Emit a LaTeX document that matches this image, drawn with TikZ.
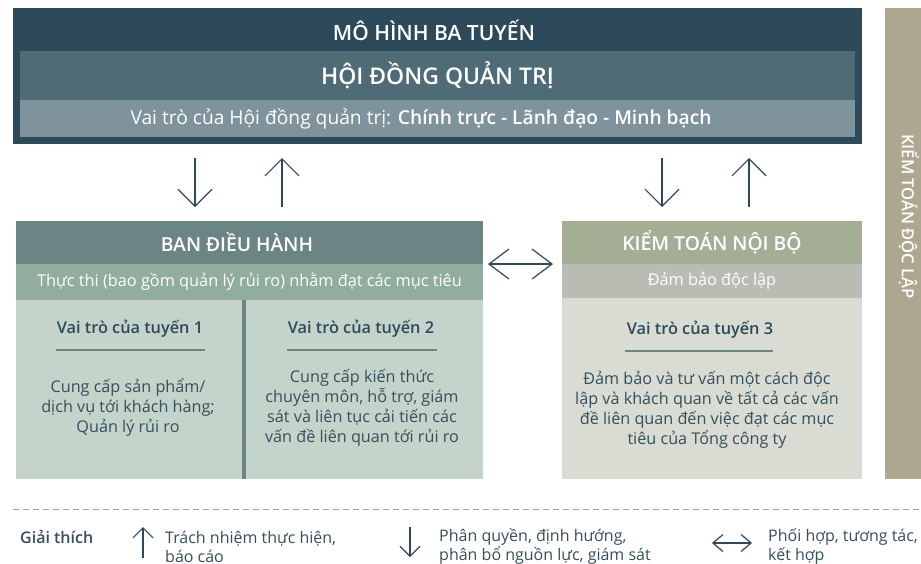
\documentclass[tikz,border=0pt]{standalone}
\usepackage{fontspec}
\setmainfont{Open Sans}[BoldFont={Open Sans Semibold}]
\usetikzlibrary{arrows.meta,positioning}

\definecolor{navy}{HTML}{2C4A59}
\definecolor{boardmid}{HTML}{4E6B76}
\definecolor{boardlight}{HTML}{7F939C}
\definecolor{mgmthead}{HTML}{6B8584}
\definecolor{mgmtsub}{HTML}{91AD9F}
\definecolor{mgmtbody}{HTML}{C5D4CB}
\definecolor{audithead}{HTML}{A4AE95}
\definecolor{auditsub}{HTML}{B9BCB2}
\definecolor{auditbody}{HTML}{D8DCD2}
\definecolor{sidebar}{HTML}{AEA78F}
\definecolor{dashgrey}{HTML}{93A5AD}
\definecolor{inktext}{HTML}{34505C}

\tikzset{
  band/.style={anchor=north west, inner sep=0pt, outer sep=0pt},
  capstxt/.style={text=white, font=\fontsize{19.3}{22}\selectfont\bfseries},
  notetxt/.style={text=white, font=\fontsize{16.3}{19}\selectfont},
  roletitle/.style={text=navy, font=\fontsize{16.3}{19}\selectfont\bfseries},
  roletxt/.style={text=inktext, align=center, font=\fontsize{16.2}{20}\selectfont},
  legendtxt/.style={text=inktext, align=left, anchor=west, inner sep=0pt, font=\fontsize{16}{19}\selectfont},
  rule/.style={draw=mgmthead, line width=2pt},
  bigarr/.style={draw=navy, line width=1.2pt, -{Straight Barb[length=17pt, width=34pt]}},
  sidearr/.style={draw=navy, line width=1.2pt, {Straight Barb[length=20pt, width=30pt]}-{Straight Barb[length=20pt, width=30pt]}},
  smallarr/.style={draw=navy, line width=1.2pt, -{Straight Barb[length=10pt, width=20pt]}},
  smallside/.style={draw=navy, line width=1.2pt, {Straight Barb[length=10pt, width=17pt]}-{Straight Barb[length=10pt, width=17pt]}}
}

\begin{document}
\begin{tikzpicture}[x=1pt, y=-1pt]
    \useasboundingbox (0, 0) rectangle (921, 563);

    % Board of directors
    \node [band, fill=navy, minimum width=849pt, minimum height=136pt] (board) at (13, 8) {};
    \node [capstxt, font=\fontsize{21}{24}\selectfont\bfseries] (boardtitle) at (434, 30) {MÔ HÌNH BA TUYẾN};
    \node [band, fill=boardmid, minimum width=835pt, minimum height=49pt, text=white,
           font=\fontsize{23}{26}\selectfont\bfseries] (hdqt) at (20, 51) {HỘI ĐỒNG QUẢN TRỊ};
    \node [band, fill=boardlight, minimum width=835pt, minimum height=37pt] (hdqtrole) at (20, 100) {};
    \node [text=white, font=\fontsize{19.2}{22}\selectfont] (hdqtroletxt) at (421, 118.5)
          {Vai trò của Hội đồng quản trị: \textbf{Chính trực - Lãnh đạo - Minh bạch}};

    % Management
    \node [band, fill=mgmthead, minimum width=467pt, minimum height=43pt] (mgmt) at (16, 221) {};
    \node [capstxt] (mgmttitle) at (237, 242.5) {BAN ĐIỀU HÀNH};
    \node [band, fill=mgmtsub, minimum width=467pt, minimum height=36pt, notetxt] (mgmtnote) at (16, 264)
          {Thực thi (bao gồm quản lý rủi ro) nhằm đạt các mục tiêu};
    \node [band, fill=mgmtbody, minimum width=467pt, minimum height=179pt] (mgmtbody) at (16, 300) {};
    \node [band, fill=mgmthead, minimum width=3.4pt, minimum height=179pt] (divider) at (242.3, 300) {};

    % First line
    \node [roletitle] (line1) at (130, 329) {Vai trò của tuyến 1};
    \draw [rule] (56, 350) -- (205, 350);
    \node [roletxt] (line1txt) at (128, 407) {Cung cấp sản phẩm/\\dịch vụ tới khách hàng;\\Quản lý rủi ro};

    % Second line
    \node [roletitle] (line2) at (361, 329) {Vai trò của tuyến 2};
    \draw [rule] (287, 350) -- (437, 350);
    \node [roletxt] (line2txt) at (362, 408)
          {Cung cấp kiến thức\\chuyên môn, hỗ trợ, giám\\sát và liên tục cải tiến các\\vấn đề liên quan tới rủi ro};

    % Internal audit
    \node [band, fill=audithead, minimum width=300pt, minimum height=43pt, capstxt] (audit) at (562, 221)
          {KIỂM TOÁN NỘI BỘ};
    \node [band, fill=auditsub, minimum width=300pt, minimum height=34pt, notetxt] (auditnote) at (562, 264)
          {Đảm bảo độc lập};
    \node [band, fill=auditbody, minimum width=300pt, minimum height=181pt] (auditbody) at (562, 298) {};

    % Third line
    \node [roletitle] (line3) at (700, 330) {Vai trò của tuyến 3};
    \draw [rule] (625, 351) -- (773, 351);
    \node [roletxt] (line3txt) at (707, 410)
          {Đảm bảo và tư vấn một cách độc\\lập và khách quan về tất cả các vấn\\đề liên quan đến việc đạt các mục\\tiêu của Tổng công ty};

    % External audit
    \node [band, fill=sidebar, minimum width=36pt, minimum height=471pt] (extaudit) at (885, 8) {};
    \node [capstxt, rotate=-90, font=\fontsize{16.6}{19}\selectfont\bfseries] (extaudittitle) at (909, 216.5)
          {KIỂM TOÁN ĐỘC LẬP};

    % Edges
    \coordinate (colA) at (195, 0);
    \coordinate (colB) at (282, 0);
    \coordinate (colC) at (662, 0);
    \coordinate (colD) at (749, 0);
    \draw [bigarr, shorten <=14pt, shorten >=14pt] (board.south -| colA) -- (mgmt.north -| colA);
    \draw [bigarr, shorten <=14pt, shorten >=14pt] (mgmt.north -| colB) -- (board.south -| colB);
    \draw [bigarr, shorten <=14pt, shorten >=14pt] (board.south -| colC) -- (audit.north -| colC);
    \draw [bigarr, shorten <=14pt, shorten >=14pt] (audit.north -| colD) -- (board.south -| colD);
    \draw [sidearr, shorten <=5pt, shorten >=9pt] (mgmtnote.north east) -- (auditnote.north west);

    % Legend
    \draw [dashgrey, line width=1pt, dash pattern=on 6pt off 4pt] (13, 509) -- (921, 509);
    \node [legendtxt, font=\fontsize{16}{19}\selectfont\bfseries] (legend) at (20, 537) {Giải thích};

    \coordinate (upfoot) at (143, 558);
    \coordinate (uptip) at (143, 527);
    \draw [smallarr] (upfoot) -- (uptip);
    \node [legendtxt] (report) at (165, 546.5) {Trách nhiệm thực hiện,\\báo cáo};

    \coordinate (downtop) at (410, 527);
    \coordinate (downtip) at (410, 557);
    \draw [smallarr] (downtop) -- (downtip);
    \node [legendtxt] (delegate) at (439, 546.5) {Phân quyền, định hướng,\\phân bổ nguồn lực, giám sát};

    \coordinate (sideleft) at (712, 543);
    \coordinate (sideright) at (752, 543);
    \draw [smallside] (sideleft) -- (sideright);
    \node [legendtxt] (coordinate) at (768, 546.5) {Phối hợp, tương tác,\\kết hợp};
  \end{tikzpicture}
\end{document}
